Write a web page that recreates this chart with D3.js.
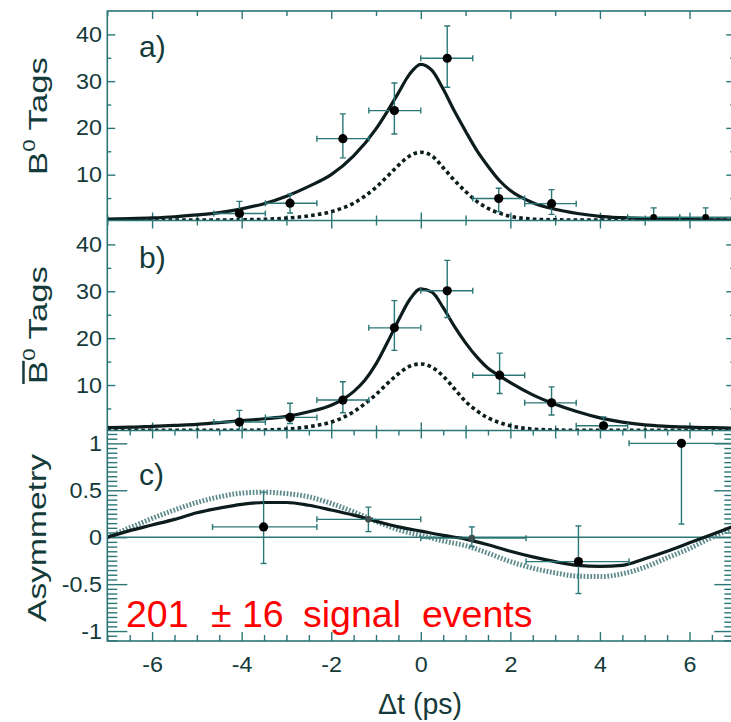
<!DOCTYPE html>
<html><head><meta charset="utf-8">
<script src="https://cdn.jsdelivr.net/npm/d3@7"></script>
<style>body{margin:0;background:#fff}</style>
</head><body>
<svg id="chart" width="731" height="722"></svg>
<script>
// ---------------- DATA ----------------
// x-axis tick labels (Δt, ps)
const xTickLabels = [-6, -4, -2, 0, 2, 4, 6];
// y tick labels
const countTicks = [10, 20, 30, 40];
const countMinorTicks = [5, 15, 25, 35];
const asymTicks = [-1, -0.5, 0, 0.5, 1];

// Panel a) B0 tags : data points
const aX    = [-4.05, -2.92, -1.74, -0.59, 0.59, 1.74, 2.92, 5.2, 6.36];
const aY    = [1.7, 3.9, 17.7, 23.7, 34.9, 4.9, 3.8, 0.9, 0.9];
const aUp   = [2.6, 1.9, 5.3, 5.9, 6.9, 2.2, 3.0, 2.0, 2.0];
const aDn   = [1.7, 2.1, 4.1, 5.0, 6.2, 2.8, 2.3, 0.9, 0.9];
const aLo   = [-4.62, -3.47, -2.32, -1.16, 0, 1.16, 2.32, 4.62, 5.78];
const aHi   = [-3.47, -2.32, -1.16, 0, 1.16, 2.32, 3.47, 5.78, 6.94];
// Panel a) curves
const aCurveT   = [-7, -6.5, -6, -5.5, -5, -4.5, -4, -3.5, -3, -2.5, -2, -1.5, -1, -0.75, -0.5, -0.25, 0, 0.25, 0.5, 0.75, 1, 1.25, 1.5, 1.75, 2, 2.5, 3, 3.5, 4, 4.5, 5, 5.5, 6, 6.5, 7];
const aSolid    = [0.5, 0.6, 0.75, 1.0, 1.4, 1.9, 2.7, 3.8, 5.4, 7.5, 10.0, 14.0, 19.8, 23.5, 27.5, 31.5, 33.6, 32.3, 28.3, 23.6, 19.3, 15.2, 11.8, 8.8, 6.6, 4.0, 2.6, 1.7, 1.1, 0.8, 0.6, 0.5, 0.4, 0.35, 0.3];
const aDotted   = [0.3, 0.3, 0.3, 0.3, 0.3, 0.3, 0.35, 0.45, 0.7, 1.2, 2.1, 3.9, 7.3, 9.6, 12.0, 14.0, 14.8, 14.0, 11.5, 8.8, 6.4, 4.3, 2.8, 1.8, 1.1, 0.5, 0.35, 0.3, 0.3, 0.3, 0.3, 0.3, 0.3, 0.3, 0.3];

// Panel b) anti-B0 tags : data points
const bX    = [-4.05, -2.92, -1.74, -0.59, 0.59, 1.76, 2.92, 4.08];
const bY    = [2.1, 3.1, 6.8, 22.2, 30.1, 12.1, 6.2, 1.3];
const bUp   = [2.5, 3.0, 3.9, 5.8, 6.5, 4.7, 3.4, 1.9];
const bDn   = [2.1, 1.3, 2.7, 4.8, 5.7, 3.9, 2.6, 1.3];
const bLo   = [-4.62, -3.47, -2.32, -1.16, 0, 1.16, 2.32, 3.47];
const bHi   = [-3.47, -2.32, -1.16, 0, 1.16, 2.32, 3.47, 4.62];
// Panel b) curves
const bCurveT   = [-7, -6.5, -6, -5.5, -5, -4.5, -4, -3.5, -3, -2.5, -2, -1.75, -1.5, -1.25, -1, -0.75, -0.5, -0.25, 0, 0.25, 0.5, 0.75, 1, 1.25, 1.5, 1.75, 2, 2.5, 3, 3.5, 4, 4.5, 5, 5.5, 6, 6.5, 7];
const bSolid    = [0.9, 1.0, 1.2, 1.4, 1.6, 2.0, 2.4, 2.8, 3.3, 4.3, 5.7, 6.9, 8.6, 11.0, 14.5, 19.0, 23.8, 28.2, 30.5, 29.8, 26.5, 22.5, 19.0, 16.0, 13.6, 12.0, 10.5, 7.9, 5.9, 4.3, 3.0, 2.1, 1.5, 1.2, 1.0, 0.9, 0.8];
const bDotted   = [0.35, 0.35, 0.35, 0.35, 0.35, 0.35, 0.35, 0.4, 0.6, 1.1, 2.1, 3.0, 4.3, 6.0, 8.0, 10.3, 12.4, 14.0, 14.5, 13.8, 11.9, 9.2, 6.5, 4.5, 3.0, 2.0, 1.3, 0.6, 0.4, 0.35, 0.35, 0.35, 0.35, 0.35, 0.35, 0.35, 0.35];

// Panel c) asymmetry : data points
const cX    = [-3.51, -1.17, 1.14, 3.52, 5.82];
const cY    = [0.11, 0.19, -0.01, -0.26, 1.0];
const cUp   = [0.37, 0.13, 0.12, 0.38, 0.0];
const cDn   = [0.39, 0.13, 0.09, 0.34, 0.86];
const cLo   = [-4.65, -2.32, 0, 2.35, 4.65];
const cHi   = [-2.32, 0, 2.35, 4.65, 7.0];
// Panel c) curves
const cCurveT   = [-7, -6.5, -6, -5.5, -5, -4.5, -4, -3.5, -3, -2.5, -2, -1.5, -1, -0.5, 0, 0.5, 1, 1.5, 2, 2.5, 3, 3.5, 4, 4.5, 5, 5.5, 6, 6.5, 7];
const cSolid    = [0.0, 0.07, 0.13, 0.19, 0.26, 0.31, 0.35, 0.37, 0.37, 0.34, 0.29, 0.235, 0.17, 0.11, 0.065, 0.02, -0.02, -0.08, -0.15, -0.21, -0.26, -0.30, -0.31, -0.30, -0.23, -0.15, -0.06, 0.03, 0.12];
const cDotted   = [0.0, 0.1, 0.2, 0.29, 0.37, 0.43, 0.47, 0.48, 0.465, 0.43, 0.36, 0.27, 0.17, 0.08, 0.02, -0.04, -0.09, -0.17, -0.26, -0.33, -0.38, -0.415, -0.42, -0.39, -0.32, -0.22, -0.12, 0.0, 0.1];

// ---------------- DRAWING ----------------
const FONT = "'Liberation Sans', Arial, Helvetica, sans-serif";
const INK = "#0d1c1c";
const AXC = "#2b7676";
const TXT = "#143a3a";

const svg = d3.select("#chart");
const X0 = 107.3, X1 = 734.3;
const x = d3.scaleLinear().domain([-7, 7]).range([X0, X1]);

const panels = [
  {id:"a", top:11,    bottom:220.5, dom:[0.2, 45],
   px:aX, py:aY, up:aUp, dn:aDn, lo:aLo, hi:aHi, t:aCurveT, s:aSolid, d:aDotted,
   ticks:countTicks, minor:countMinorTicks, label:"a)", labelY:57, small:[7,8]},
  {id:"b", top:220.5, bottom:430.5, dom:[0.3, 45.1],
   px:bX, py:bY, up:bUp, dn:bDn, lo:bLo, hi:bHi, t:bCurveT, s:bSolid, d:bDotted,
   ticks:countTicks, minor:countMinorTicks, label:"b)", labelY:268, small:[]},
  {id:"c", top:430.5, bottom:641,   dom:[-1.106, 1.137],
   px:cX, py:cY, up:cUp, dn:cDn, lo:cLo, hi:cHi, t:cCurveT, s:cSolid, d:cDotted,
   ticks:asymTicks, minor:null, label:"c)", labelY:485, small:[1,2]}
];

const fmt = d => String(d);

panels.forEach(p => {
  const y = d3.scaleLinear().domain(p.dom).range([p.bottom, p.top]);
  p.y = y;
  const g = svg.append("g");

  svg.append("clipPath").attr("id", "clip-" + p.id)
    .append("rect").attr("x", X0).attr("y", p.top).attr("width", X1 - X0).attr("height", p.bottom - p.top);

  const styleAxis = sel => {
    sel.select(".domain").remove();
    sel.selectAll("line").attr("stroke", AXC).attr("stroke-width", 1.4);
    sel.selectAll("text").attr("fill", TXT).style("font-family", FONT).style("font-size", "22px")
      .attr("transform", "scale(1.06,1)");
  };

  if (p.id !== "c") {
    g.append("g").attr("transform", `translate(${X0},0)`)
      .call(d3.axisLeft(y).tickValues(p.ticks).tickSize(-8).tickPadding(5).tickFormat(fmt)).call(styleAxis);
    g.append("g").attr("transform", `translate(${X0},0)`)
      .call(d3.axisLeft(y).tickValues(p.minor).tickSize(-4).tickFormat("")).call(styleAxis);
    g.append("g").attr("transform", `translate(${X1},0)`)
      .call(d3.axisRight(y).tickValues(p.ticks).tickSize(-8).tickFormat("")).call(styleAxis);
    g.append("g").attr("transform", `translate(${X1},0)`)
      .call(d3.axisRight(y).tickValues(p.minor).tickSize(-4).tickFormat("")).call(styleAxis);
  } else {
    const minorC = d3.range(-22, 23).map(k => k * 0.05).filter(v => Math.abs(v*2 - Math.round(v*2)) > 1e-6);
    g.append("g").attr("transform", `translate(${X0},0)`)
      .call(d3.axisLeft(y).tickValues(p.ticks).tickSize(-20).tickPadding(5).tickFormat(fmt)).call(styleAxis);
    g.append("g").attr("transform", `translate(${X0},0)`)
      .call(d3.axisLeft(y).tickValues(minorC).tickSize(-10).tickFormat("")).call(styleAxis);
    g.append("g").attr("transform", `translate(${X1},0)`)
      .call(d3.axisRight(y).tickValues(p.ticks).tickSize(-20).tickFormat("")).call(styleAxis);
    g.append("g").attr("transform", `translate(${X1},0)`)
      .call(d3.axisRight(y).tickValues(minorC).tickSize(-10).tickFormat("")).call(styleAxis);
  }

  let majT, minT;
  if (p.id !== "c") {
    majT = d3.range(-6, 7, 2);
    minT = d3.range(-7, 8, 2);
  } else {
    majT = d3.range(-6, 7, 1);
    minT = d3.range(-6.5, 7, 1);
  }
  g.append("g").attr("transform", `translate(0,${p.top})`)
    .call(d3.axisTop(x).tickValues(majT).tickSize(-8).tickFormat("")).call(styleAxis);
  g.append("g").attr("transform", `translate(0,${p.top})`)
    .call(d3.axisTop(x).tickValues(minT).tickSize(-5).tickFormat("")).call(styleAxis);
  if (p.id === "c") {
    g.append("g").attr("transform", `translate(0,${p.bottom})`)
      .call(d3.axisBottom(x).tickValues(xTickLabels).tickSize(-9).tickPadding(15).tickFormat(fmt)).call(styleAxis);
    g.append("g").attr("transform", `translate(0,${p.bottom})`)
      .call(d3.axisBottom(x).tickValues(d3.range(-7, 7.01, 0.5).filter(v => !xTickLabels.includes(v)))
        .tickSize(-6).tickFormat("")).call(styleAxis);
  } else {
    g.append("g").attr("transform", `translate(0,${p.bottom})`)
      .call(d3.axisBottom(x).tickValues(majT).tickSize(-8).tickFormat("")).call(styleAxis);
    g.append("g").attr("transform", `translate(0,${p.bottom})`)
      .call(d3.axisBottom(x).tickValues(minT).tickSize(-5).tickFormat("")).call(styleAxis);
  }

  if (p.id === "c") {
    g.append("line").attr("x1", X0).attr("x2", X1).attr("y1", y(0)).attr("y2", y(0))
      .attr("stroke", AXC).attr("stroke-width", 1.6);
  }

  const plot = g.append("g").attr("clip-path", `url(#clip-${p.id})`);
  const line = d3.line().x(d => x(d[0])).y(d => y(d[1])).curve(d3.curveMonotoneX);

  if (p.id === "c") {
    plot.append("path").attr("d", line(d3.zip(p.t, p.d)))
      .attr("fill", "none").attr("stroke", "#5d8a8b").attr("stroke-width", 5)
      .attr("stroke-dasharray", "1.7,1.7");
  } else {
    plot.append("path").attr("d", line(d3.zip(p.t, p.d)))
      .attr("fill", "none").attr("stroke", INK).attr("stroke-width", 3.6)
      .attr("stroke-dasharray", "3.6,3.2");
  }
  plot.append("path").attr("d", line(d3.zip(p.t, p.s)))
    .attr("fill", "none").attr("stroke", INK).attr("stroke-width", 3.2);

  const eb = plot.append("g").attr("stroke", AXC).attr("stroke-width", 1.4);
  p.px.forEach((xv, i) => {
    const cx = x(xv), cy = y(p.py[i]);
    const yt = y(p.py[i] + p.up[i]), yb = y(p.py[i] - p.dn[i]);
    const xl = x(p.lo[i]), xr = x(p.hi[i]);
    eb.append("line").attr("x1", cx).attr("x2", cx).attr("y1", yt).attr("y2", yb);
    eb.append("line").attr("x1", cx - 3).attr("x2", cx + 3).attr("y1", yt).attr("y2", yt);
    eb.append("line").attr("x1", cx - 3).attr("x2", cx + 3).attr("y1", yb).attr("y2", yb);
    eb.append("line").attr("x1", xl).attr("x2", xr).attr("y1", cy).attr("y2", cy);
    eb.append("line").attr("x1", xl).attr("x2", xl).attr("y1", cy - 3).attr("y2", cy + 3);
    eb.append("line").attr("x1", xr).attr("x2", xr).attr("y1", cy - 3).attr("y2", cy + 3);
  });
  p.px.forEach((xv, i) => {
    const small = p.small.includes(i);
    plot.append("circle").attr("cx", x(xv)).attr("cy", y(p.py[i]))
      .attr("r", small ? 3.3 : 4.6)
      .attr("fill", small && p.id === "c" ? "#3f4d4d" : "#000");
  });

  svg.append("text").attr("x", 139).attr("y", p.labelY).text(p.label)
    .attr("fill", TXT).style("font-family", FONT).style("font-size", "30px");
});

svg.append("rect").attr("x", X0).attr("y", 11).attr("width", X1 - X0).attr("height", 641 - 11)
  .attr("fill", "none").attr("stroke", AXC).attr("stroke-width", 1.6);
[220.5, 430.5].forEach(yy => svg.append("line").attr("x1", X0).attr("x2", X1)
  .attr("y1", yy).attr("y2", yy).attr("stroke", AXC).attr("stroke-width", 1.6));

function yTitle(parts, bx, cy, len) {
  const t = svg.append("text").attr("text-anchor", "middle").attr("fill", TXT)
    .style("font-family", FONT).style("font-size", "25px");
  parts.forEach(pt => {
    const ts = t.append("tspan").text(pt.s);
    if (pt.sup) ts.style("font-size", "16px").attr("dy", "-0.75em");
    if (pt.after) ts.attr("dy", "0.48em");
    if (pt.over) ts.style("text-decoration", "overline");
  });
  const nat = t.node().getComputedTextLength();
  t.attr("transform", `translate(${bx},${cy}) rotate(-90) scale(${len / nat},1)`);
  return t;
}
yTitle([{s:"B"}, {s:"0", sup:true}, {s:" Tags", after:true}], 47, 116, 118);
yTitle([{s:"B", over:true}, {s:"0", sup:true}, {s:" Tags", after:true}], 47, 325, 118);
yTitle([{s:"Asymmetry"}], 46, 538, 168);

const xt = svg.append("text").attr("text-anchor", "middle").attr("fill", TXT)
  .style("font-family", FONT).style("font-size", "29px").text("Δt (ps)");
{
  const nat = xt.node().getComputedTextLength();
  xt.attr("transform", `translate(420,714) scale(${84 / nat},1)`);
}

const red = svg.append("text").attr("y", 627).attr("fill", "#ff0000")
  .style("font-family", FONT).style("font-size", "37.5px");
red.append("tspan").attr("x", 126).text("201  ");
red.append("tspan").attr("x", 211).text("± ");
red.append("tspan").attr("x", 242).text("16 ");
red.append("tspan").attr("x", 303).text("signal ");
red.append("tspan").attr("x", 422).text("events");
</script>
</body></html>
